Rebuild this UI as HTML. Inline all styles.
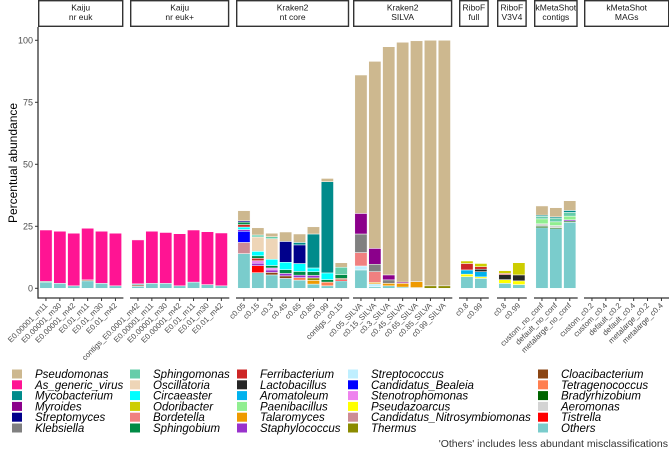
<!DOCTYPE html>
<html><head><meta charset="utf-8"><style>
html,body{margin:0;padding:0;background:#fff;width:669px;height:449px;overflow:hidden}
svg{display:block;font-family:"Liberation Sans",sans-serif}
</style></head><body>
<svg id="chart" width="669" height="449" viewBox="0 0 669 449" xmlns="http://www.w3.org/2000/svg"></svg>
<script>
const genera = ["Pseudomonas","As_generic_virus","Mycobacterium","Myroides","Streptomyces","Klebsiella","Sphingomonas","Oscillatoria","Circaeaster","Odoribacter","Bordetella","Sphingobium","Ferribacterium","Lactobacillus","Aromatoleum","Paenibacillus","Talaromyces","Staphylococcus","Streptococcus","Candidatus_Bealeia","Stenotrophomonas","Pseudazoarcus","Candidatus_Nitrosymbiomonas","Thermus","Cloacibacterium","Tetragenococcus","Bradyrhizobium","Aeromonas","Tistrella","Others"];
const colors = ["#CDB88F","#FF1493","#008B8B","#8B008B","#00008B","#808080","#66CDAA","#EED5B7","#00FFFF","#CDCD00","#F08080","#008B45","#CD2626","#262626","#00B2EE","#90EE90","#EE9A00","#9932CC","#BFEFFF","#0000FF","#EE82EE","#FFFF00","#CD8C95","#8B8B00","#8B4513","#FF7F50","#006400","#D3D3D3","#FF0000","#7ACCCC"];
const panelNames = [["Kaiju","nr euk"],["Kaiju","nr euk+"],["Kraken2","nt core"],["Kraken2","SILVA"],["RiboF","full"],["RiboF","V3V4"],["kMetaShot","contigs"],["kMetaShot","MAGs"]];
const panelLabels = [
 ["E0.00001_m11","E0.00001_m30","E0.00001_m42","E0.01_m11","E0.01_m30","E0.01_m42"],
 ["contigs_E0.0001_m42","E0.00001_m11","E0.00001_m30","E0.00001_m42","E0.01_m11","E0.01_m30","E0.01_m42"],
 ["c0.05","c0.15","c0.3","c0.45","c0.65","c0.85","c0.99","contigs_c0.15"],
 ["c0.05_SILVA","c0.15_SILVA","c0.3_SILVA","c0.45_SILVA","c0.65_SILVA","c0.85_SILVA","c0.99_SILVA"],
 ["c0.8","c0.99"],["c0.8","c0.99"],
 ["custom_no_conf","default_no_conf","metalarge_no_conf"],
 ["custom_c0.2","custom_c0.4","default_c0.2","default_c0.4","metalarge_c0.2","metalarge_c0.4"]];
const yTicks = [0,25,50,75,100];
// stacks: [panel, bar, [[genus, value], ...]] bottom to top
const stacks = [
 [0,0,[["Others",2.5],["Sphingobium",0.3],["As_generic_virus",20.7]]],
 [0,1,[["Others",2],["As_generic_virus",21]]],
 [0,2,[["Others",1],["As_generic_virus",21.2]]],
 [0,3,[["Others",3],["Cloacibacterium",0.4],["As_generic_virus",20.8]]],
 [0,4,[["Others",2],["As_generic_virus",21]]],
 [0,5,[["Others",1],["As_generic_virus",21.2]]],
 [1,0,[["Others",0.8],["Cloacibacterium",0.5],["Others",0.5],["As_generic_virus",17.7]]],
 [1,1,[["Others",2],["As_generic_virus",21]]],
 [1,2,[["Others",2],["As_generic_virus",20.5]]],
 [1,3,[["Others",1],["As_generic_virus",21]]],
 [1,4,[["Others",2.5],["As_generic_virus",21]]],
 [1,5,[["Others",1.5],["As_generic_virus",21.3]]],
 [1,6,[["Others",1],["As_generic_virus",21.3]]],
 [2,0,[["Others",14],["Candidatus_Nitrosymbiomonas",4.5],["Candidatus_Bealeia",4.5],["Staphylococcus",0.7],["Circaeaster",1],["Ferribacterium",1],["Sphingobium",1],["Streptomyces",0.5],["Pseudomonas",4.1]]],
 [2,1,[["Others",6.3],["Tistrella",2.8],["Staphylococcus",1],["Stenotrophomonas",1],["Ferribacterium",1],["Sphingobium",1],["Circaeaster",1.8],["Oscillatoria",5.8],["Sphingomonas",0.8],["Pseudomonas",2.9]]],
 [2,2,[["Others",5.4],["Cloacibacterium",1],["Staphylococcus",1],["Stenotrophomonas",0.8],["Sphingobium",1],["Circaeaster",2.5],["Oscillatoria",8.3],["Sphingomonas",0.8],["Pseudomonas",1.4]]],
 [2,3,[["Others",4],["Cloacibacterium",1],["Staphylococcus",1],["Sphingobium",1.5],["Circaeaster",3],["Streptomyces",8.4],["Pseudomonas",3.8]]],
 [2,4,[["Others",3.3],["Tetragenococcus",1],["Staphylococcus",1],["Sphingobium",1.5],["Circaeaster",3.2],["Streptomyces",7.5],["Mycobacterium",1],["Pseudomonas",3.4]]],
 [2,5,[["Others",1.7],["Talaromyces",1.5],["Thermus",1],["Staphylococcus",1],["Sphingobium",1.5],["Circaeaster",1.5],["Mycobacterium",13.7],["Pseudomonas",2.9]]],
 [2,6,[["Others",1],["Tetragenococcus",1.5],["Sphingobium",1],["Circaeaster",2.7],["Mycobacterium",36.8],["Pseudomonas",1.3]]],
 [2,7,[["Others",3],["Tistrella",0.5],["Cloacibacterium",0.5],["Sphingobium",1.5],["Sphingomonas",3],["Pseudomonas",1.8]]],
 [3,0,[["Others",7.4],["Streptococcus",1.6],["Bordetella",5.4],["Klebsiella",7.5],["Myroides",8.3],["Pseudomonas",55.8]]],
 [3,1,[["Others",0.6],["Streptococcus",1.2],["Talaromyces",0.6],["Bordetella",4.3],["Klebsiella",3],["Myroides",6.4],["Pseudomonas",75.4]]],
 [3,2,[["Others",1],["Talaromyces",1],["Klebsiella",1.4],["Myroides",2],["Pseudomonas",92]]],
 [3,3,[["Others",0.5],["Talaromyces",1.5],["Myroides",0.5],["Pseudomonas",96.7]]],
 [3,4,[["Others",0.3],["Talaromyces",2.4],["Pseudomonas",97.1]]],
 [3,5,[["Thermus",1],["Pseudomonas",99]]],
 [3,6,[["Thermus",1],["Pseudomonas",99]]],
 [4,0,[["Others",4.7],["Pseudazoarcus",1],["Aromatoleum",1.7],["Ferribacterium",2.6],["Odoribacter",1]]],
 [4,1,[["Others",4],["Pseudazoarcus",0.6],["Aromatoleum",2.1],["Lactobacillus",1],["Ferribacterium",1],["Odoribacter",1.3]]],
 [5,0,[["Others",2],["Pseudazoarcus",1.5],["Lactobacillus",2],["Ferribacterium",0.5],["Odoribacter",1.1]]],
 [5,1,[["Others",1.5],["Pseudazoarcus",1.5],["Lactobacillus",2.4],["Odoribacter",4.9]]],
 [6,0,[["Others",24.4],["Bradyrhizobium",0.6],["Aeromonas",1],["Paenibacillus",2],["Sphingomonas",1],["Mycobacterium",0.5],["Pseudomonas",3.7]]],
 [6,1,[["Others",24],["Bradyrhizobium",0.5],["Aeromonas",0.8],["Paenibacillus",1.5],["Sphingomonas",1.5],["Mycobacterium",0.5],["Pseudomonas",3.7]]],
 [6,2,[["Others",26.6],["Bradyrhizobium",0.5],["Staphylococcus",0.5],["Paenibacillus",1.5],["Sphingomonas",1.5],["Mycobacterium",0.8],["Pseudomonas",3.9]]]
];
const legendCols = [genera.slice(0,6),genera.slice(6,12),genera.slice(12,18),genera.slice(18,24),genera.slice(24,30)];

const NS="http://www.w3.org/2000/svg";
const svg=document.getElementById('chart');
function mk(tag,attrs,parent){const e=document.createElementNS(NS,tag);for(const k in attrs)e.setAttribute(k,attrs[k]);(parent||svg).appendChild(e);return e;}
const panelStart=[38,130,236,353,459,497,534,584];
const step=13.9, bw=12.3;
const y0=288.3, ppu=2.48;
function yScale(v){return y0-v*ppu;}
function xCenter(p,i){return panelStart[p]+1+step*(i+0.5);}
function pWidth(p){return panelLabels[p].length*step+2;}

// strips and axes
panelNames.forEach((nm,p)=>{
  const x=panelStart[p], w=pWidth(p);
  const r=mk('rect',{x:x+0.7,y:0.7,width:w-1.4,height:25.6,fill:'#fff',stroke:'#333','stroke-width':1.4});
  
  
  nm.forEach((s,k)=>{const t=mk('text',{x:x+w/2,y:10.5+k*9.5,'font-size':8.5,fill:'#1a1a1a','text-anchor':'middle'});t.textContent=s;
    
    });
  const ax=mk('line',{x1:x,x2:x+w,y1:298,y2:298,stroke:'#333','stroke-width':1.3});
  
  
  panelLabels[p].forEach((lb,i)=>{
    const cx=xCenter(p,i);
    mk('line',{x1:cx,x2:cx,y1:298,y2:301,stroke:'#333','stroke-width':1});
    const t=mk('text',{x:cx+2,y:306,'font-size':7.8,fill:'#4d4d4d','text-anchor':'end',transform:`rotate(-45 ${cx+2} 306)`});
    t.textContent=lb;
    
    
  });
});
// y axis
const yl=mk('line',{x1:38,x2:38,y1:27,y2:298.6,stroke:'#333','stroke-width':1.3});


yTicks.forEach(v=>{
  const y=yScale(v);
  mk('line',{x1:35,x2:38,y1:y,y2:y,stroke:'#333','stroke-width':1});
  const t=mk('text',{x:33,y:y+3,'font-size':9,fill:'#4d4d4d','text-anchor':'end'});t.textContent=v;
  
  
});
const yt=mk('text',{x:0,y:0,'font-size':12,fill:'#000','text-anchor':'middle',transform:'translate(17,163) rotate(-90)'});
yt.textContent='Percentual abundance';



// bars
stacks.forEach(([p,i,segs])=>{
  let cum=0; const cx=xCenter(p,i);
  segs.forEach(([g,v])=>{
    const r=mk('rect',{x:cx-bw/2,y:yScale(cum+v),width:bw,height:v*ppu,fill:colors[genera.indexOf(g)],stroke:'#fff','stroke-width':0.5});
    
    
    cum+=v;
  });
});

// legend
const colKeyX=[12,130,237,348,538];
legendCols.forEach((col,c)=>{
  col.forEach((g,r)=>{
    const y=374+r*10.8;
    const k=mk('rect',{x:colKeyX[c],y:y-4.5,width:10,height:9,fill:colors[genera.indexOf(g)]});
    
    
    const t=mk('text',{x:colKeyX[c]+23,y:y+4,'font-size':11.5,'font-style':'italic',fill:'#000'});
    t.textContent=g;
    
    
  });
});
const cap=mk('text',{x:668,y:447,'font-size':10.5,fill:'#333','text-anchor':'end'});
cap.textContent="'Others' includes less abundant misclassifications";


</script>
</body></html>
